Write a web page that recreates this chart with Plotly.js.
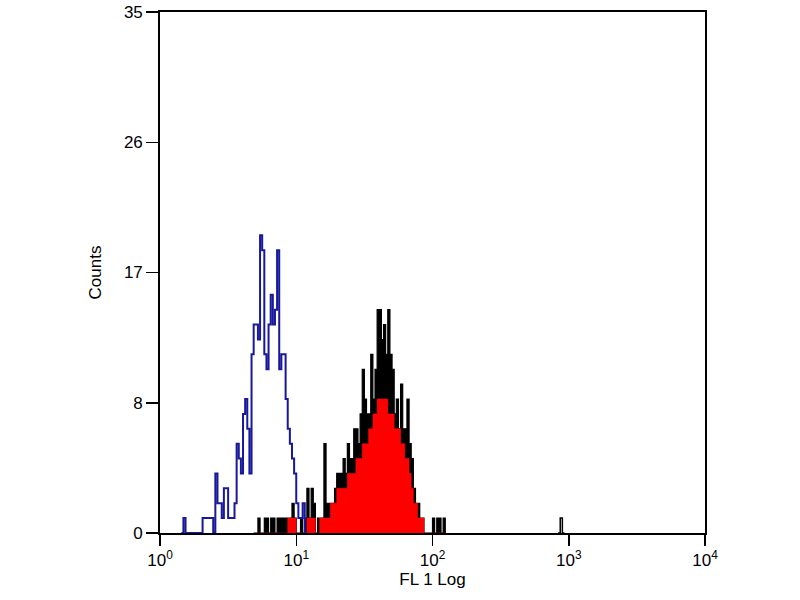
<!DOCTYPE html>
<html>
<head>
<meta charset="utf-8">
<script src="https://cdn.plot.ly/plotly-3.0.1.min.js"></script>
<style>
  body { margin: 0; background: #fff; }
  #chart { width: 800px; height: 600px; }
</style>
</head>
<body>
<div id="chart"></div>
<script>
// 256-channel log histogram, channel 0..256 = 10^0..10^4
const decadeTicks = [0, 64, 128, 192, 256]
const decadeLabels = ['10<sup>0</sup>', '10<sup>1</sup>', '10<sup>2</sup>', '10<sup>3</sup>', '10<sup>4</sup>']

const countTicks = [0, 8.75, 17.5, 26.25, 35]
const countLabels = ['0', '8', '17', '26', '35']

// isotype control (blue outline), starting at channel 10
const controlStart = 10
const controlCounts = [
    0, 1, 0, 0, 0, 0, 0, 0, 0, 0,
    1, 1, 1, 1, 1, 0, 4, 2, 2, 1,
    3, 3, 1, 1, 1, 2, 6, 5, 4, 8,
    9, 7, 4, 12, 14, 14, 13, 20, 19, 12,
    11, 14, 16, 14, 15, 19, 11, 12, 12, 9,
    7, 6, 5, 4, 2, 1, 1, 2, 0, 0
]

// stained sample, black outline, starting at channel 44
const sampleStart = 44
const sampleCounts = [
    0, 0, 1, 0, 0, 1, 1, 0, 1, 1,
    0, 1, 1, 1, 1, 1, 1, 1, 2, 1,
    0, 0, 1, 0, 1, 3, 1, 3, 2, 0,
    1, 1, 1, 6, 2, 2, 2, 2, 3, 4,
    4, 4, 5, 4, 6, 5, 5, 7, 7, 6,
    8, 11, 9, 8, 8, 12, 9, 11, 15, 15,
    13, 14, 12, 15, 12, 11, 8, 9, 7, 10,
    7, 7, 9, 6, 5, 3, 2, 2, 1, 1,
    0, 0, 0, 0, 1, 0, 1, 1, 0, 1,
    0
]

// red fill under the sample outline, starting at channel 44
const fillCounts = [
    0, 0, 0, 0, 0, 0, 0, 0, 0, 0,
    0, 0, 0, 0, 0, 0, 1, 1, 1, 1,
    0, 0, 0, 0, 0, 1, 1, 1, 1, 0,
    0, 1, 1, 1, 1, 1, 2, 2, 2, 3,
    3, 3, 3, 3, 4, 4, 4, 4, 5, 5,
    5, 6, 6, 6, 7, 7, 8, 8, 9, 9,
    9, 9, 9, 8, 8, 8, 7, 7, 7, 6,
    6, 5, 5, 4, 3, 2, 2, 1, 1, 1,
    0, 0, 0, 0, 0, 0, 0, 0, 0, 0,
    0
]

// lone event near 10^3
const strayChannels = [187, 188, 189, 190]
const strayCounts = [0, 1, 0, 0]

const channels = (start, arr) => arr.map((_, i) => start + i)

const data = [
    {
        x: channels(sampleStart, sampleCounts),
        y: sampleCounts,
        type: 'scatter',
        mode: 'lines',
        line: { shape: 'hv', color: '#000', width: 1.2 },
        fill: 'tozeroy',
        fillcolor: '#000'
    },
    {
        x: channels(sampleStart, fillCounts),
        y: fillCounts,
        type: 'scatter',
        mode: 'lines',
        line: { shape: 'hv', color: '#ff1010', width: 0.5 },
        fill: 'tozeroy',
        fillcolor: '#ff0000'
    },
    {
        x: strayChannels,
        y: strayCounts,
        type: 'scatter',
        mode: 'lines',
        line: { shape: 'hv', color: '#000', width: 1.5 }
    },
    {
        x: channels(controlStart, controlCounts),
        y: controlCounts,
        type: 'scatter',
        mode: 'lines',
        line: { shape: 'hv', color: '#18189c', width: 2 }
    }
]

const axisFont = { family: 'Liberation Sans, Arial, sans-serif', size: 17, color: '#000' }
const titleFont = { family: 'Liberation Sans, Arial, sans-serif', size: 17, color: '#000' }

const layout = {
    width: 800,
    height: 600,
    showlegend: false,
    paper_bgcolor: '#fff',
    plot_bgcolor: '#fff',
    margin: { l: 160, r: 95, t: 12, b: 67 },
    xaxis: {
        range: [0, 256],
        tickmode: 'array',
        tickvals: decadeTicks,
        ticktext: decadeLabels,
        ticks: 'outside',
        ticklen: 11,
        tickwidth: 1.5,
        tickcolor: '#000',
        showline: true,
        linecolor: '#000',
        linewidth: 1.8,
        mirror: true,
        showgrid: false,
        zeroline: false,
        tickfont: axisFont,
        title: { text: 'FL 1 Log', font: titleFont, standoff: 4 }
    },
    yaxis: {
        range: [0, 35],
        tickmode: 'array',
        tickvals: countTicks,
        ticktext: countLabels,
        ticks: 'outside',
        ticklen: 12,
        tickwidth: 1.5,
        tickcolor: '#000',
        showline: true,
        linecolor: '#000',
        linewidth: 1.8,
        mirror: true,
        showgrid: false,
        zeroline: false,
        tickfont: axisFont,
        title: { text: 'Counts', font: titleFont, standoff: 18 }
    }
}

Plotly.newPlot('chart', data, layout, { displayModeBar: false, staticPlot: true })
</script>
</body>
</html>
